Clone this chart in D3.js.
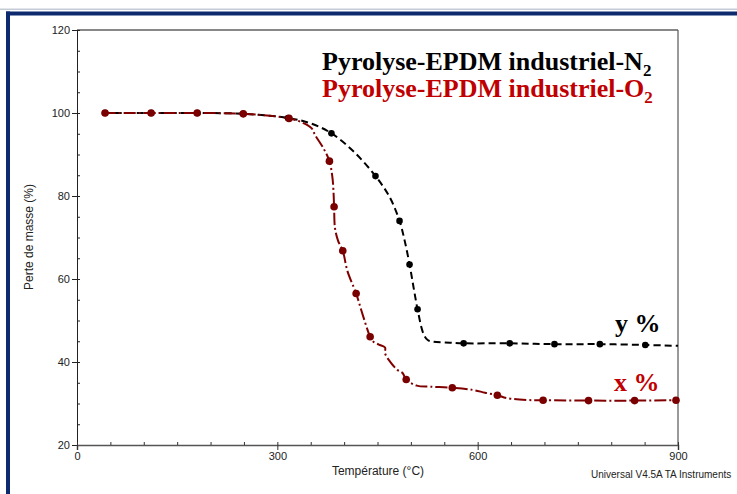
<!DOCTYPE html>
<html><head><meta charset="utf-8">
<script src="https://cdn.jsdelivr.net/npm/d3@7"></script>
<style>
html,body{margin:0;padding:0;background:#fff;overflow:hidden;}
svg{display:block;}
</style></head>
<body>
<svg id="chart" width="737" height="494"></svg>
<script>
// ---- Data ----
// N2 line trace (temperature °C, mass %)
const n2LineT = [40,111,180,249,316,350,381,415,447,468,483,491,498,504,510,518.6,525.2,533.6,558.6,579,648,715,783,851,900];
const n2LineM = [100,100,100,99.8,98.8,97.5,95.1,90.6,84.8,79.8,74,69,63.5,58,52.7,46.9,45.3,44.9,44.65,44.5,44.5,44.3,44.3,44.1,43.9];
// N2 markers
const n2MarkT = [42,111,180,249,316,381,447,483,498,510,579,648,715,783,851];
const n2MarkM = [100,100,100,99.8,98.8,95.1,84.8,74,63.5,52.7,44.5,44.5,44.3,44.3,44.1];
// O2 line trace
const o2LineT = [40,111,180,249,317.5,340,351.5,356.5,369,378,382.4,384,385,386.4,391,398,405,418,428,439,443.8,452,461.3,461.3,468.8,479.7,487.8,492.7,508.8,528.7,561.2,593.5,611,629.5,643.6,673.5,698,766,835,897,900];
const o2LineM = [100,100,100,99.8,98.7,97.5,96.3,94.7,91.5,88.4,84.6,81.4,77.4,72.2,69.2,66.8,61.9,56.5,51.3,46.1,44.9,44.2,43.5,42.1,40.1,38.1,37.3,35.8,34.3,34.05,33.8,33.25,32.6,32.0,31.3,30.85,30.8,30.7,30.7,30.8,30.8];
// O2 markers
const o2MarkT = [42,111,180,249,317.5,378,385,398,418,439,493,562,629.5,698,766,835,897];
const o2MarkM = [100,100,100,99.8,98.7,88.4,77.4,66.8,56.5,46.1,35.8,33.8,32.0,30.8,30.7,30.7,30.8];

const xMajorTicks = [0,300,600,900];
const yMajorTicks = [20,40,60,80,100,120];

// ---- Chart ----
const svg = d3.select("#chart");
const x = d3.scaleLinear().domain([0,900]).range([77,678]);
const y = d3.scaleLinear().domain([20,120]).range([445,30]);

// page decoration
svg.append("rect").attr("x",0).attr("y",8.5).attr("width",737).attr("height",1.5).attr("fill","#c5cbd6");
svg.append("rect").attr("x",6).attr("y",11.5).attr("width",731).attr("height",4).attr("fill","#0d2a6e");
svg.append("rect").attr("x",6).attr("y",11.5).attr("width",4).attr("height",483).attr("fill","#0d2a6e");

// frame
svg.append("line").attr("x1",x(0)).attr("x2",x(900)).attr("y1",y(120)).attr("y2",y(120)).attr("stroke","#111").attr("stroke-width",1);
svg.append("line").attr("x1",x(900)).attr("x2",x(900)).attr("y1",y(120)).attr("y2",y(20)).attr("stroke","#555").attr("stroke-width",1.2);

const tickFont = g => g.selectAll("text").attr("font-family","Liberation Sans, Arial, sans-serif").attr("font-size","11px").attr("fill","#222");

// Y axis (major outward)
const yAxis = svg.append("g").attr("transform",`translate(${x(0)},0)`)
  .call(d3.axisLeft(y).tickValues(yMajorTicks).tickSize(5).tickPadding(2).tickFormat(d3.format("d")));
yAxis.select(".domain").attr("stroke","#222");
yAxis.selectAll(".tick line").attr("stroke","#222");
tickFont(yAxis);
// Y minor (inward)
const yMinor = svg.append("g").attr("transform",`translate(${x(0)},0)`)
  .call(d3.axisRight(y).tickValues(d3.range(20,121,5)).tickSize(3).tickFormat(""));
yMinor.select(".domain").remove();
yMinor.selectAll(".tick line").attr("stroke","#222");

// X axis
const xAxis = svg.append("g").attr("transform",`translate(0,${y(20)})`)
  .call(d3.axisBottom(x).tickValues(xMajorTicks).tickSize(5).tickPadding(2).tickFormat(d3.format("d")));
xAxis.select(".domain").attr("stroke","#555").attr("stroke-width",1.5);
xAxis.selectAll(".tick line").attr("stroke","#333");
tickFont(xAxis);
const xMinor = svg.append("g").attr("transform",`translate(0,${y(20)})`)
  .call(d3.axisTop(x).tickValues(d3.range(0,901,50)).tickSize(3).tickFormat(""));
xMinor.select(".domain").remove();
xMinor.selectAll(".tick line").attr("stroke","#333");

// axis titles
svg.append("text").attr("x",378).attr("y",475).attr("text-anchor","middle")
  .attr("font-family","Liberation Sans, Arial, sans-serif").attr("font-size","12px").attr("fill","#222")
  .text("Température (°C)");
svg.append("text").attr("transform","translate(33,237) rotate(-90)").attr("text-anchor","middle")
  .attr("font-family","Liberation Sans, Arial, sans-serif").attr("font-size","12px").attr("fill","#222")
  .text("Perte de masse (%)");
svg.append("text").attr("x",591).attr("y",478)
  .attr("font-family","Liberation Sans, Arial, sans-serif").attr("font-size","10px").attr("fill","#222")
  .text("Universal V4.5A TA Instruments");

// curves
const zip = (a,b) => a.map((v,i)=>[v,b[i]]);
const line = d3.line().x(d=>x(d[0])).y(d=>y(d[1])).curve(d3.curveCatmullRom.alpha(0.5));

svg.append("path").datum(zip(n2LineT,n2LineM)).attr("d",line)
  .attr("fill","none").attr("stroke","#000").attr("stroke-width",2).attr("stroke-dasharray","7,4");
svg.append("path").datum(zip(o2LineT,o2LineM)).attr("d",line)
  .attr("fill","none").attr("stroke","#800000").attr("stroke-width",2).attr("stroke-dasharray","12,3,2,3");

svg.append("g").selectAll("circle").data(zip(n2MarkT,n2MarkM)).join("circle")
  .attr("cx",d=>x(d[0])).attr("cy",d=>y(d[1])).attr("r",3.3).attr("fill","#000");
svg.append("g").selectAll("circle").data(zip(o2MarkT,o2MarkM)).join("circle")
  .attr("cx",d=>x(d[0])).attr("cy",d=>y(d[1])).attr("r",3.8).attr("fill","#7a0000");

// legend titles
const serif = "Liberation Serif, Times New Roman, serif";
const t1 = svg.append("text").attr("x",322).attr("y",70).attr("font-family",serif).attr("font-weight","bold").attr("font-size","26px").attr("fill","#000");
t1.append("tspan").text("Pyrolyse-EPDM industriel-N");
t1.append("tspan").attr("dy",6).attr("font-size","17px").text("2");
const t2 = svg.append("text").attr("x",322).attr("y",97).attr("font-family",serif).attr("font-weight","bold").attr("font-size","26px").attr("fill","#c00000");
t2.append("tspan").text("Pyrolyse-EPDM industriel-O");
t2.append("tspan").attr("dy",6).attr("font-size","17px").text("2");

svg.append("text").attr("x",615).attr("y",332).attr("font-family",serif).attr("font-weight","bold").attr("font-size","26px").attr("fill","#000").text("y %");
svg.append("text").attr("x",614).attr("y",391).attr("font-family",serif).attr("font-weight","bold").attr("font-size","26px").attr("fill","#c00000").text("x %");
</script>
</body></html>
